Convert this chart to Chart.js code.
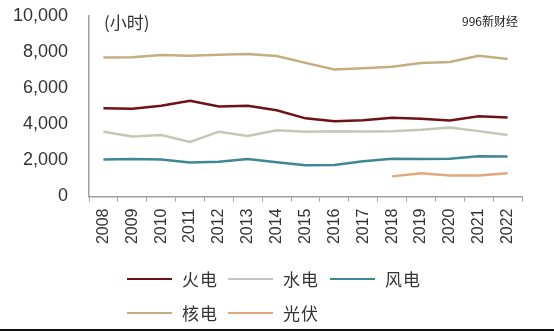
<!DOCTYPE html>
<html>
<head>
<meta charset="utf-8">
<script src="https://cdn.jsdelivr.net/npm/chart.js@4/dist/chart.umd.min.js"></script>
<style>
  html, body { margin: 0; padding: 0; background: #fff; }
  #wrap { position: relative; width: 554px; height: 331px; overflow: hidden; }
  #chart { position: absolute; left: 0; top: 0; }
  #unit { position: absolute; left: 104px; top: 9px; font: 17px "Noto Sans CJK SC", sans-serif; color: #333; }
  #mark { position: absolute; left: 462px; top: 12px; font: 12px "Noto Sans CJK SC", sans-serif; color: #222;
          text-shadow: 1px 0 #fff, -1px 0 #fff, 0 1px #fff, 0 -1px #fff; }
  #legend { position: absolute; left: 127px; top: 266px; width: 320px; font: 17px "Noto Sans CJK SC", sans-serif; color: #333; }
  .item { position: absolute; display: flex; align-items: center; white-space: nowrap; letter-spacing: 1px; }
  .swatch { width: 45px; height: 2px; margin-right: 10px; }
  #bottom { position: absolute; left: 0; right: 0; bottom: 0; height: 2px; background: #111; }
</style>
</head>
<body>
<div id="wrap">
  <canvas id="chart" width="554" height="331"></canvas>
  <div id="unit">(小时)</div>
  <div id="mark">996新财经</div>
  <div id="legend"></div>
  <div id="bottom"></div>
</div>
<script>
const years = ['2008','2009','2010','2011','2012','2013','2014','2015','2016','2017','2018','2019','2020','2021','2022'];
const thermal = [4885, 4865, 5031, 5305, 4982, 5021, 4778, 4329, 4165, 4219, 4361, 4307, 4216, 4448, 4379];
const hydro   = [3589, 3328, 3404, 3019, 3591, 3359, 3669, 3590, 3619, 3597, 3613, 3697, 3827, 3622, 3412];
const wind    = [2046, 2077, 2047, 1890, 1929, 2080, 1900, 1728, 1742, 1948, 2095, 2082, 2097, 2232, 2221];
const nuclear = [7700, 7716, 7840, 7800, 7855, 7900, 7787, 7403, 7042, 7108, 7184, 7394, 7453, 7802, 7616];
const solar   = [null, null, null, null, null, null, null, null, null, null, 1115, 1285, 1160, 1163, 1290];

const seriesNames = ['火电', '水电', '风电', '核电', '光伏'];
const seriesColors = ['#6e1216', '#c6c6b8', '#3f8795', '#c6ad7f', '#e4a77c'];
const seriesData = [thermal, hydro, wind, nuclear, solar];

const datasets = seriesNames.map((name, i) => ({
  label: name,
  data: seriesData[i],
  borderColor: seriesColors[i],
  backgroundColor: seriesColors[i],
  borderWidth: 2.5,
  pointRadius: 0,
  tension: 0,
  fill: false
}));

const chart = new Chart(document.getElementById('chart'), {
  type: 'line',
  data: { labels: years, datasets: datasets },
  options: {
    responsive: false,
    animation: false,
    layout: { padding: { left: 0, right: 32, top: 16, bottom: 0 } },
    plugins: { legend: { display: false }, tooltip: { enabled: false } },
    scales: {
      x: {
        offset: true,
        grid: { offset: true, drawOnChartArea: false, drawTicks: true, tickLength: 5, color: '#a0a0a0' },
        border: { color: '#a0a0a0', width: 1.5 },
        ticks: {
          maxRotation: 90, minRotation: 90, padding: 7, autoSkip: false,
          color: '#333', font: { family: 'Liberation Sans, Arial', size: 16 }
        },
        afterFit: s => { s.height = 134.5; s.paddingTop = 0; }
      },
      y: {
        min: 0, max: 10000,
        grid: { drawOnChartArea: false, drawTicks: false },
        border: { color: '#a0a0a0', width: 1.5 },
        ticks: {
          stepSize: 2000, padding: 21,
          color: '#333', font: { family: 'Liberation Sans, Arial', size: 18 },
          callback: v => v.toLocaleString('en-US')
        },
        afterFit: s => { s.width = 89; s.paddingTop = 0; }
      }
    }
  }
});

// legend built from the chart's datasets, laid out like the original (3 + 2, left aligned)
const legendPos = [[0, 0], [101, 0], [203, 0], [0, 34], [101, 34]];
const legendEl = document.getElementById('legend');
chart.data.datasets.forEach((ds, i) => {
  const item = document.createElement('div');
  item.className = 'item';
  item.style.left = legendPos[i][0] + 'px';
  item.style.top = legendPos[i][1] + 'px';
  const sw = document.createElement('span');
  sw.className = 'swatch';
  sw.style.background = ds.borderColor;
  const tx = document.createElement('span');
  tx.textContent = ds.label;
  item.appendChild(sw);
  item.appendChild(tx);
  legendEl.appendChild(item);
});
</script>
</body>
</html>
